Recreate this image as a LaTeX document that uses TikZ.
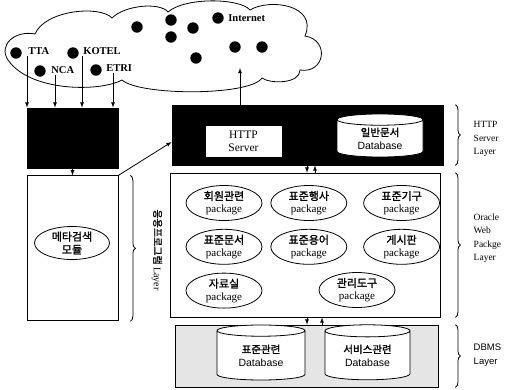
\documentclass[tikz,border=0pt]{standalone}
\usepackage{fontspec}
\setmainfont{Liberation Serif}
\newfontfamily\krfont{Noto Sans CJK KR}[AutoFakeBold=1.5]
\newfontfamily\dbfont{Liberation Sans}
\usetikzlibrary{positioning, arrows, shapes.geometric, decorations.pathreplacing}

\tikzset{
    site/.style={anchor=west, inner sep=1pt, font=\fontsize{10.5}{12}\selectfont\bfseries},
    pkg/.style={draw, ellipse, minimum width=76, minimum height=35, inner sep=0pt, align=center, font=\fontsize{11}{12.5}\selectfont},
    db/.style={draw, cylinder, shape border rotate=90, aspect=0.25, fill=white, inner sep=0pt, align=center, font=\fontsize{10.5}{13}\selectfont},
    layer/.style={decorate, decoration={brace, amplitude=5pt}},
    lbl/.style={anchor=west, align=left, font=\fontsize{9.5}{13.5}\selectfont}
}

\begin{document}
\begin{tikzpicture}[x=1pt, y=-1pt, line width=0.8pt, >=latex]
    \useasboundingbox (0,0) rectangle (513,389);

    % internet cloud
    \draw (8,60) .. controls (-2,45) and (15,30) .. (35,34)
        .. controls (45,10) and (100,5) .. (112,18)
        .. controls (125,5) and (160,2) .. (168,12)
        .. controls (185,-3) and (240,-2) .. (250,10)
        .. controls (270,-2) and (318,5) .. (305,36)
        .. controls (330,40) and (325,74) .. (300,70)
        .. controls (300,84) and (270,84) .. (262,78)
        .. controls (250,96) and (140,96) .. (122,80)
        .. controls (100,92) and (30,92) .. (8,60) -- cycle;
    \foreach \p in {(16,53),(40,71),(73,53),(96,70),(137,27),(171,20),(171,37),(193,28),(196,58),(218,18),(235,47),(262,47)}
        \fill \p circle (5.7pt);
    \node[site] (inet) at (227,18) {Internet};
    \node[site] (tta) at (27,51) {TTA};
    \node[site] (nca) at (50,70) {NCA};
    \node[site] (kotel) at (82,51) {KOTEL};
    \node[site] (etri) at (105,68) {ETRI};

    % left column
    \node[draw, fill=black, minimum width=91, minimum height=60] (collect) at (72.5,138) {};
    \node[draw, minimum width=91, minimum height=145, below=7pt of collect] (meta) {};
    \node[draw, ellipse, minimum width=75, minimum height=33, inner sep=0pt, align=center, font=\fontsize{11}{13}\selectfont] (metamod) at (72,243) {\krfont\bfseries 메타검색\\\krfont\bfseries 모듈};

    \draw[->] (tta.south west) -- (tta.south west |- collect.north);
    \draw[->] ([xshift=5pt]nca.south west) -- ([xshift=5pt]nca.south west |- collect.north);
    \draw[->] (kotel.south west) -- (kotel.south west |- collect.north);
    \draw[->] ([xshift=8pt]etri.south west) -- ([xshift=8pt]etri.south west |- collect.north);
    \draw[->] (collect) -- (meta);

    % http server layer
    \node[draw, fill=black, minimum width=271, minimum height=60] (httpbox) at (307.5,135) {};
    \node[draw, fill=white, minimum width=77, minimum height=32, align=center, font=\fontsize{11.5}{13}\selectfont] (httpsrv) at (243.5,141) {HTTP\\Server};
    \node[db, minimum width=86, minimum height=43] (docdb) at (380,138.5) {{\krfont\bfseries 일반문서}\\{\dbfont Database}};
    \coordinate (netin) at (240,68);
    \draw[->] (netin |- httpbox.north) -- (netin);
    \draw[->] (meta.north east) -- ([yshift=-7pt]httpbox.west);

    % oracle web package layer
    \node[draw, minimum width=270, minimum height=144] (appbox) at (305,245) {};
    \node[pkg] (p1) at (224,203) {{\krfont\bfseries 회원관련}\\package};
    \node[pkg, right=8pt of p1] (p2) {{\krfont\bfseries 표준행사}\\package};
    \node[pkg, right=16pt of p2] (p3) {{\krfont\bfseries 표준기구}\\package};
    \node[pkg, below=8pt of p1] (p4) {{\krfont\bfseries 표준문서}\\package};
    \node[pkg, right=8pt of p4] (p5) {{\krfont\bfseries 표준용어}\\package};
    \node[pkg, right=16pt of p5] (p6) {{\krfont\bfseries 게시판}\\package};
    \node[pkg, below=8pt of p4] (p7) {{\krfont\bfseries 자료실}\\package};
    \node[pkg] (p8) at (357,290) {{\krfont\bfseries 관리도구}\\package};

    \coordinate (d1) at (307,0);
    \coordinate (u1) at (315,0);
    \draw[->] (httpbox.south -| d1) -- (appbox.north -| d1);
    \draw[->] (appbox.north -| u1) -- (httpbox.south -| u1);

    % dbms layer
    \node[draw, fill=black!10, minimum width=263, minimum height=62] (dbbox) at (306.5,356) {};
    \node[db, minimum width=88, minimum height=55] (stddb) at (261,355.5) {{\krfont\bfseries 표준관련}\\{\dbfont Database}};
    \node[db, minimum width=85, minimum height=55] (svcdb) at (367.5,355.5) {{\krfont\bfseries 서비스관련}\\{\dbfont Database}};

    \coordinate (d2) at (307,0);
    \coordinate (u2) at (322,0);
    \draw[->] (appbox.south -| d2) -- (dbbox.north -| d2);
    \draw[->] (dbbox.north -| u2) -- (appbox.south -| u2);

    % layer braces and labels
    \draw[layer] ([xshift=12pt]meta.north east) -- ([xshift=12pt]meta.south east);
    \node[rotate=-90, font=\fontsize{10}{12}\selectfont] (applbl) at (157,250) {{\krfont\bfseries 응용프로그램} Layer};
    \draw[layer] ([xshift=12pt]httpbox.north east) -- ([xshift=12pt]httpbox.south east);
    \node[lbl] (httplbl) at (470,139) {HTTP\\Server\\Layer};
    \draw[layer] ([xshift=15pt]appbox.north east) -- ([xshift=15pt]appbox.south east);
    \node[lbl] (weblbl) at (470,238) {Oracle\\Web\\Packge\\Layer};
    \draw[layer] ([xshift=17pt]dbbox.north east) -- ([xshift=17pt]dbbox.south east);
    \node[lbl, font=\fontsize{9.5}{13.5}\selectfont\dbfont] (dblbl) at (470,355) {DBMS\\Layer};
\end{tikzpicture}
\end{document}
